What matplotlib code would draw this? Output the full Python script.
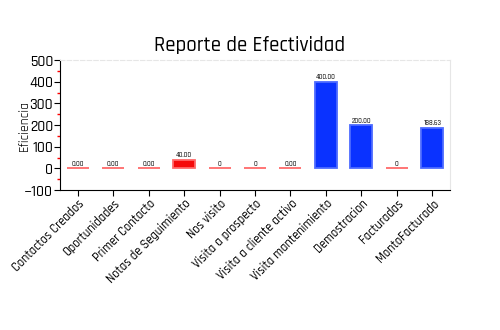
import matplotlib.pyplot as plt
import numpy as np
from matplotlib.ticker import MultipleLocator

# Data
categorias = ["Contactos Creados", "Oportunidades", "Primer Contacto",
              "Notas de Seguimiento", "Nos visito", "Visita a prospecto",
              "Visita a cliente activo", "Visita mantenimiento",
              "Demostracion", "Facturadas", "MontoFacturado"]
valores = [0, 0, 0, 40, 0, 0, 0, 400, 200, 0, 188.63]
etiquetas = ["0.00", "0.00", "0.00", "40.00", "0", "0", "0.00",
             "400.00", "200.00", "0", "188.63"]

plt.rcParams['font.family'] = ['Rajdhani', 'DejaVu Sans']
plt.rcParams['font.weight'] = 'medium'

fig = plt.figure(figsize=(5, 3.3), dpi=100)
ax = fig.add_axes([0.12, 0.424, 0.78, 0.394])

x = np.arange(len(categorias))
colores = ['#0a32ff' if v >= 100 else '#f50a0a' for v in valores]
bordes = ['#4d6bff' if v >= 100 else '#ff6a6a' for v in valores]
ax.bar(x, valores, width=0.62, color=colores, edgecolor=bordes, linewidth=1.3)

for xi, v, t in zip(x, valores, etiquetas):
    ax.text(xi, v + 6, t, ha='center', va='bottom', fontsize=5)

ax.set_xlim(-0.5, len(categorias) - 0.5)
ax.set_ylim(-100, 500)
ax.yaxis.set_major_locator(MultipleLocator(100))
ax.yaxis.set_minor_locator(MultipleLocator(50))
ax.tick_params(axis='y', which='minor', color='red', length=2.5, width=1)
ax.tick_params(axis='y', which='major', length=4, labelsize=11, pad=1)
ax.tick_params(axis='x', length=4, labelsize=9, pad=1)

ax.set_xticks(x)
ax.set_xticklabels(categorias, rotation=45, ha='right', rotation_mode='anchor')

ax.spines['top'].set_color('#e6e6e6')
ax.spines['right'].set_color('#e6e6e6')
ax.spines['top'].set_linestyle((0, (4, 2)))

ax.set_ylabel("Eficiencia", fontsize=10)
ax.yaxis.set_label_coords(-0.076, 0.5)
fig.text(0.5, 0.845, "Reporte de Efectividad", ha='center', fontsize=15)

plt.savefig("out.png", dpi=100)
